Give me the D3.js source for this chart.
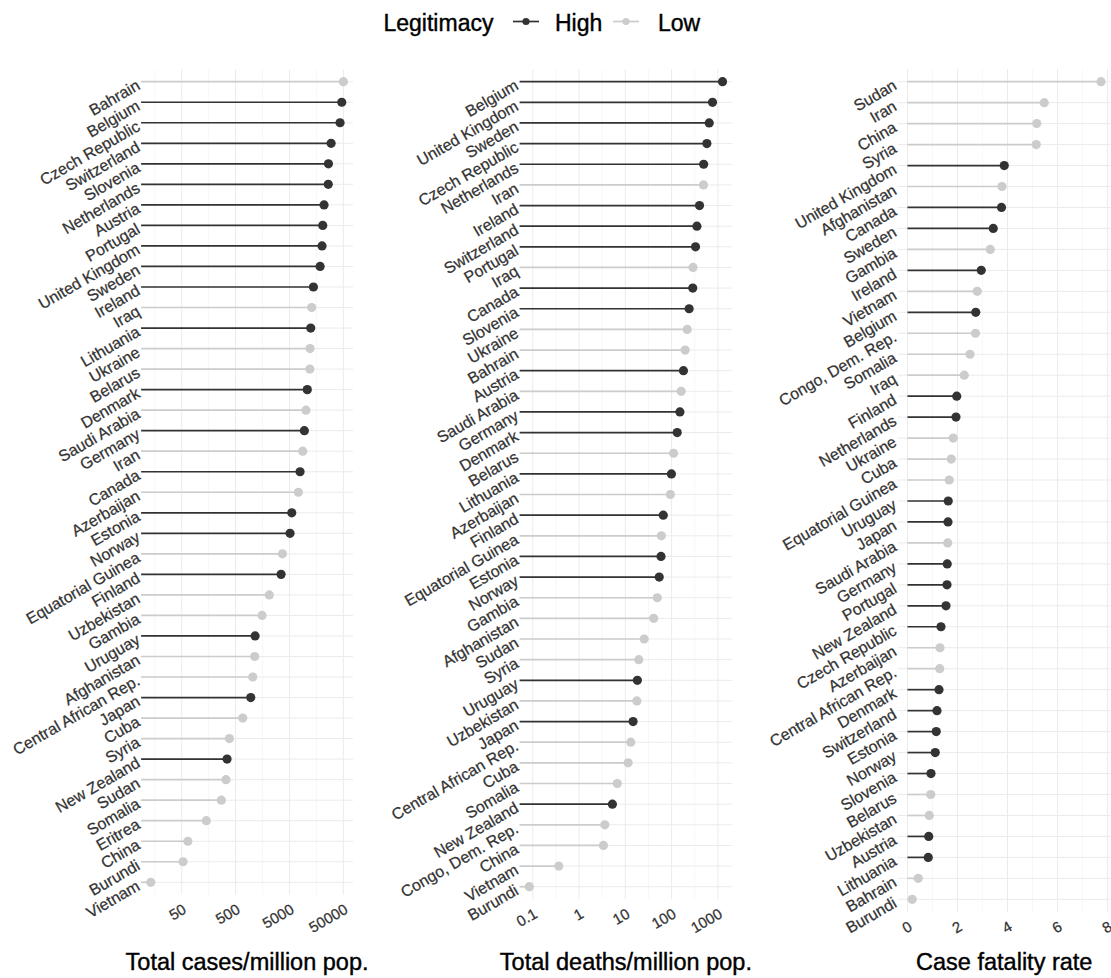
<!DOCTYPE html>
<html>
<head>
<meta charset="utf-8">
<script src="https://cdn.jsdelivr.net/npm/d3@7"></script>
<style>
  html, body { margin: 0; padding: 0; background: #ffffff; }
  svg { display: block; font-family: "Liberation Sans", Arial, Helvetica, sans-serif; }
</style>
</head>
<body>
<svg id="chart" width="1111" height="978"></svg>
<script>
// Countries whose government legitimacy is rated "High"; all others are "Low".
const highLegitimacy = [
  "Belgium", "Czech Republic", "Switzerland", "Slovenia", "Netherlands", "Austria",
  "Portugal", "United Kingdom", "Sweden", "Ireland", "Lithuania", "Denmark",
  "Germany", "Canada", "Estonia", "Norway", "Finland", "Uruguay", "Japan", "New Zealand"
];

// Total cases per million population (sorted, top to bottom)
const casesCountries = [
  "Bahrain", "Belgium", "Czech Republic", "Switzerland", "Slovenia", "Netherlands",
  "Austria", "Portugal", "United Kingdom", "Sweden", "Ireland", "Iraq", "Lithuania",
  "Ukraine", "Belarus", "Denmark", "Saudi Arabia", "Germany", "Iran", "Canada",
  "Azerbaijan", "Estonia", "Norway", "Equatorial Guinea", "Finland", "Uzbekistan",
  "Gambia", "Uruguay", "Afghanistan", "Central African Rep.", "Japan", "Cuba", "Syria",
  "New Zealand", "Sudan", "Somalia", "Eritrea", "China", "Burundi", "Vietnam"
];
const casesValues = [
  50000, 46700, 43400, 29600, 26400, 26200, 21900, 20700, 20100, 18500, 13900, 12900,
  12400, 12050, 11950, 10700, 10100, 9440, 8810, 7850, 7300, 5510, 5120, 3690, 3490,
  2110, 1550, 1150, 1130, 1040, 955, 678, 383, 347, 332, 272, 143, 65, 53, 13.3
];
const casesTicks = [50, 500, 5000, 50000];

// Total deaths per million population
const deathsCountries = [
  "Belgium", "United Kingdom", "Sweden", "Czech Republic", "Netherlands", "Iran",
  "Ireland", "Switzerland", "Portugal", "Iraq", "Canada", "Slovenia", "Ukraine",
  "Bahrain", "Austria", "Saudi Arabia", "Germany", "Denmark", "Belarus", "Lithuania",
  "Azerbaijan", "Finland", "Equatorial Guinea", "Estonia", "Norway", "Gambia",
  "Afghanistan", "Sudan", "Syria", "Uruguay", "Uzbekistan", "Japan",
  "Central African Rep.", "Cuba", "Somalia", "New Zealand", "Congo, Dem. Rep.",
  "China", "Vietnam", "Burundi"
];
const deathsValues = [
  1259, 764, 649, 578, 492, 487, 400, 352, 328, 290, 286, 239, 217, 196, 180, 161,
  151, 132, 110, 99, 94, 66, 60, 59, 54, 49, 41, 25.5, 19.5, 18.2, 17.7, 14.7, 13.1,
  11.5, 6.7, 5.25, 3.6, 3.36, 0.364, 0.084
];
const deathsTicks = [0.1, 1, 10, 100, 1000];

// Case fatality rate (%)
const cfrCountries = [
  "Sudan", "Iran", "China", "Syria", "United Kingdom", "Afghanistan", "Canada",
  "Sweden", "Gambia", "Ireland", "Vietnam", "Belgium", "Congo, Dem. Rep.", "Somalia",
  "Iraq", "Finland", "Netherlands", "Ukraine", "Cuba", "Equatorial Guinea", "Uruguay",
  "Japan", "Saudi Arabia", "Germany", "Portugal", "New Zealand", "Czech Republic",
  "Azerbaijan", "Central African Rep.", "Denmark", "Switzerland", "Estonia", "Norway",
  "Slovenia", "Belarus", "Uzbekistan", "Austria", "Lithuania", "Bahrain", "Burundi"
];
const cfrValues = [
  7.74, 5.47, 5.17, 5.15, 3.87, 3.78, 3.76, 3.43, 3.31, 2.95, 2.79, 2.73, 2.72, 2.50,
  2.27, 1.97, 1.94, 1.83, 1.75, 1.67, 1.63, 1.62, 1.61, 1.59, 1.58, 1.54, 1.34, 1.30,
  1.29, 1.26, 1.18, 1.15, 1.11, 0.94, 0.93, 0.87, 0.85, 0.83, 0.43, 0.19
];
const cfrTicks = [0, 2, 4, 6, 8];

const legendLevels = ["High", "Low"];
const levelColor = { High: "#333333", Low: "#cccccc" };

const svg = d3.select("#chart");

// Panel frames (plot-area pixels)
const panels = [
  { countries: casesCountries, values: casesValues, ticks: casesTicks, log: true,
    title: "Total cases/million pop.", x0: 141.1, x1: 353.0, y0: 69.4, y1: 894.6 },
  { countries: deathsCountries, values: deathsValues, ticks: deathsTicks, log: true,
    title: "Total deaths/million pop.", x0: 519.6, x1: 732.2, y0: 69.3, y1: 899.1 },
  { countries: cfrCountries, values: cfrValues, ticks: cfrTicks, log: false,
    title: "Case fatality rate", x0: 897.8, x1: 1110.7, y0: 69.1, y1: 911.9 }
];

const gridColor = "#ebebeb";
const textColor = "#333333";

panels.forEach(p => {
  const g = svg.append("g");
  const data = p.countries.map((c, i) => ({
    country: c,
    value: p.values[i],
    level: highLegitimacy.includes(c) ? "High" : "Low"
  }));

  // x scale with 5% expansion of the data range (in transformed space)
  let x, minor;
  if (p.log) {
    const lmin = Math.log10(d3.min(p.values)), lmax = Math.log10(d3.max(p.values));
    const pad = (lmax - lmin) * 0.05;
    x = d3.scaleLog().domain([10 ** (lmin - pad), 10 ** (lmax + pad)]).range([p.x0, p.x1]);
    const lt = p.ticks.map(t => Math.log10(t));
    const step = lt[1] - lt[0];
    minor = [lt[0] - step / 2].concat(lt.map(t => t + step / 2)).map(t => 10 ** t);
  } else {
    const vmax = Math.max(0, d3.max(p.values)), vmin = Math.min(0, d3.min(p.values));
    const pad = (vmax - vmin) * 0.05;
    x = d3.scaleLinear().domain([vmin - pad, vmax + pad]).range([p.x0, p.x1]);
    const step = p.ticks[1] - p.ticks[0];
    minor = [p.ticks[0] - step / 2].concat(p.ticks.map(t => t + step / 2));
  }
  const [d0, d1] = x.domain();
  minor = minor.filter(v => v >= d0 && v <= d1);

  const y = d3.scalePoint().domain(p.countries).range([p.y0, p.y1]).padding(0.6);

  // grid: minor verticals, major verticals, one horizontal per country
  g.append("g").selectAll("line").data(minor).join("line")
    .attr("x1", d => x(d)).attr("x2", d => x(d))
    .attr("y1", p.y0).attr("y2", p.y1)
    .attr("stroke", "#f3f3f3").attr("stroke-width", 0.7);
  g.append("g").selectAll("line").data(p.ticks.filter(v => v >= d0 && v <= d1)).join("line")
    .attr("x1", d => x(d)).attr("x2", d => x(d))
    .attr("y1", p.y0).attr("y2", p.y1)
    .attr("stroke", gridColor).attr("stroke-width", 1);
  g.append("g").selectAll("line").data(p.countries).join("line")
    .attr("x1", p.x0).attr("x2", p.x1)
    .attr("y1", d => y(d)).attr("y2", d => y(d))
    .attr("stroke", gridColor).attr("stroke-width", 1);

  // stems run from zero (the panel's left edge on log panels)
  const base = p.log ? p.x0 : x(0);
  g.append("g").selectAll("line").data(data).join("line")
    .attr("x1", base).attr("x2", d => x(d.value))
    .attr("y1", d => y(d.country)).attr("y2", d => y(d.country))
    .attr("stroke", d => levelColor[d.level]).attr("stroke-width", 1.7);
  g.append("g").selectAll("circle").data(data).join("circle")
    .attr("cx", d => x(d.value)).attr("cy", d => y(d.country))
    .attr("r", 4.6).attr("fill", d => levelColor[d.level]);

  // country labels, rotated
  g.append("g").selectAll("text").data(p.countries).join("text")
    .attr("transform", d => `translate(${p.x0 - 4},${y(d)}) rotate(-30)`)
    .attr("text-anchor", "end").attr("dy", "0.5em")
    .attr("font-size", 16).attr("fill", textColor)
    .attr("stroke", textColor).attr("stroke-width", 0.25)
    .text(d => d);

  // x tick labels, rotated
  const fmt = v => (p.log ? String(v) : d3.format("d")(v));
  g.append("g").selectAll("text").data(p.ticks).join("text")
    .attr("transform", d => `translate(${x(d)},${p.y1 + 8}) rotate(-30)`)
    .attr("text-anchor", "end").attr("dy", "0.75em")
    .attr("font-size", 15).attr("fill", textColor)
    .attr("stroke", textColor).attr("stroke-width", 0.25)
    .text(fmt);

  // axis title
  g.append("text")
    .attr("x", (p.x0 + p.x1) / 2).attr("y", 970)
    .attr("text-anchor", "middle").attr("font-size", 23.5).attr("fill", "#000")
    .attr("stroke", "#000").attr("stroke-width", 0.4)
    .text(p.title);
});

// legend
const legend = svg.append("g");
legend.append("text").attr("x", 383.5).attr("y", 31)
  .attr("font-size", 23).attr("fill", "#000")
  .attr("stroke", "#000").attr("stroke-width", 0.4).text("Legitimacy");
const keyX = [513, 613], labelX = [555, 658];
legendLevels.forEach((lv, i) => {
  legend.append("line")
    .attr("x1", keyX[i]).attr("x2", keyX[i] + 26).attr("y1", 21.5).attr("y2", 21.5)
    .attr("stroke", levelColor[lv]).attr("stroke-width", 1.7);
  legend.append("circle")
    .attr("cx", keyX[i] + 13).attr("cy", 21.5).attr("r", 3.6).attr("fill", levelColor[lv]);
  legend.append("text").attr("x", labelX[i]).attr("y", 31)
    .attr("font-size", 23).attr("fill", "#000")
    .attr("stroke", "#000").attr("stroke-width", 0.4).text(lv);
});
</script>
</body>
</html>
